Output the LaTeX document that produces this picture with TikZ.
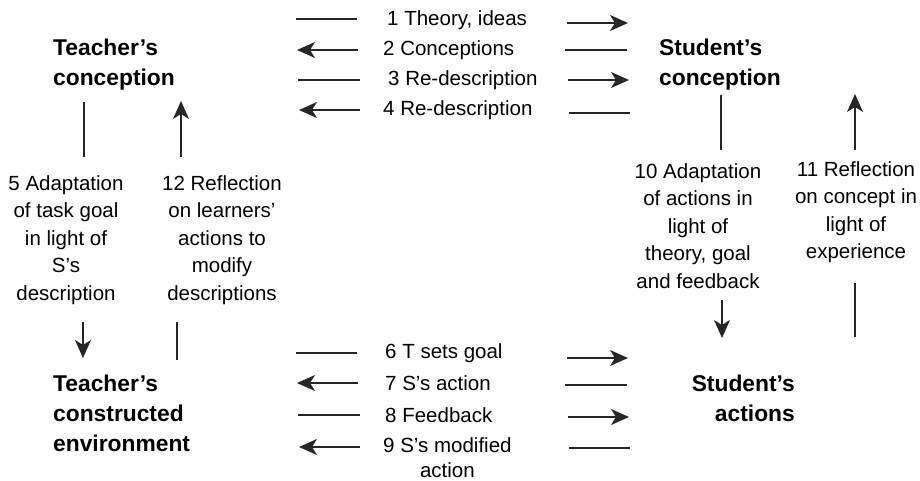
\documentclass[tikz,border=0pt]{standalone}
\usepackage{fontspec}
\setmainfont{Liberation Sans}
\usetikzlibrary{arrows.meta,positioning}

\begin{document}
\begin{tikzpicture}[
  x=1pt, y=-1pt,
  actor/.style={inner sep=0pt, align=left, font=\bfseries\fontsize{22.8}{30}\selectfont},
  lbl/.style={inner sep=0pt, align=center, font=\fontsize{20.5}{27.5}\selectfont},
  seg/.style={line width=1.6pt, draw=black!85},
  arrow/.style={seg, -{Stealth[length=18pt,width=16pt,inset=5pt]}}
]
\useasboundingbox (0,0) rectangle (920,481);

% Actors
\node[actor, anchor=west] (tconc) at (53,65) {Teacher’s\\conception};
\node[actor, anchor=west] (sconc) at (659,65) {Student’s\\conception};
\node[actor, anchor=west] (tenv) at (53,413) {Teacher’s\\constructed\\environment};
\node[actor, anchor=east, align=right] (sact) at (795,398) {Student’s\\actions};

% Exchanges between the conceptions
\node[lbl, anchor=west] (l1) at (387,20) {1 Theory, ideas};
\node[lbl, anchor=west] (l2) at (383,50) {2 Conceptions};
\node[lbl, anchor=west] (l3) at (388,80) {3 Re-description};
\node[lbl, anchor=west] (l4) at (383,110) {4 Re-description};

% Exchanges between the environment and the actions
\node[lbl, anchor=west] (l6) at (385,353) {6 T sets goal};
\node[lbl, anchor=west] (l7) at (385,383) {7 S’s action};
\node[lbl, anchor=west] (l8) at (385,415) {8 Feedback};
\node[lbl, anchor=north west] (l9) at (383,437) {9 S’s modified\\[-2pt]action};

% Vertical loops
\node[lbl] (l5) at (66,240) {5 Adaptation\\of task goal\\in light of\\S’s\\description};
\node[lbl] (l12) at (222,240) {12 Reflection\\on learners’\\actions to\\modify\\descriptions};
\node[lbl] (l10) at (698,226) {10 Adaptation\\of actions in\\light of\\theory, goal\\and feedback};
\node[lbl] (l11) at (856,212) {11 Reflection\\on concept in\\light of\\experience};

% Segment end points, top rows
\coordinate (a1) at (296,19);  \coordinate (b1) at (357,19);
\coordinate (c1) at (567,23);  \coordinate (d1) at (628,23);
\coordinate (a2) at (297,50);  \coordinate (b2) at (358,50);
\coordinate (c2) at (565,50);  \coordinate (d2) at (627,50);
\coordinate (a3) at (298,80);  \coordinate (b3) at (360,80);
\coordinate (c3) at (568,80);  \coordinate (d3) at (629,80);
\coordinate (a4) at (299,110); \coordinate (b4) at (360,110);
\coordinate (c4) at (569,113); \coordinate (d4) at (630,113);

% Segment end points, bottom rows
\coordinate (a6) at (296,353); \coordinate (b6) at (357,353);
\coordinate (c6) at (567,358); \coordinate (d6) at (628,358);
\coordinate (a7) at (297,383); \coordinate (b7) at (358,383);
\coordinate (c7) at (565,385); \coordinate (d7) at (627,385);
\coordinate (a8) at (298,415); \coordinate (b8) at (360,415);
\coordinate (c8) at (568,417); \coordinate (d8) at (629,417);
\coordinate (a9) at (299,447); \coordinate (b9) at (360,447);
\coordinate (c9) at (569,448); \coordinate (d9) at (630,448);

% Horizontal connectors
\draw[seg] (a1) -- (b1);   \draw[arrow] (c1) -- (d1);
\draw[arrow] (b2) -- (a2); \draw[seg] (c2) -- (d2);
\draw[seg] (a3) -- (b3);   \draw[arrow] (c3) -- (d3);
\draw[arrow] (b4) -- (a4); \draw[seg] (c4) -- (d4);
\draw[seg] (a6) -- (b6);   \draw[arrow] (c6) -- (d6);
\draw[arrow] (b7) -- (a7); \draw[seg] (c7) -- (d7);
\draw[seg] (a8) -- (b8);   \draw[arrow] (c8) -- (d8);
\draw[arrow] (b9) -- (a9); \draw[seg] (c9) -- (d9);

% Vertical end points
\coordinate (v5a) at (84,102);   \coordinate (v5b) at (84,157);
\coordinate (v5c) at (83,322);   \coordinate (v5d) at (83,358);
\coordinate (v12a) at (181,157); \coordinate (v12b) at (181,101);
\coordinate (v12c) at (177,322); \coordinate (v12d) at (177,360);
\coordinate (v10a) at (721,95);  \coordinate (v10b) at (721,150);
\coordinate (v10c) at (722,300); \coordinate (v10d) at (722,338);
\coordinate (v11a) at (855,150); \coordinate (v11b) at (855,94);
\coordinate (v11c) at (855,283); \coordinate (v11d) at (855,337);

% Vertical connectors
\draw[seg] (v5a) -- (v5b);     \draw[arrow] (v5c) -- (v5d);
\draw[arrow] (v12a) -- (v12b); \draw[seg] (v12c) -- (v12d);
\draw[seg] (v10a) -- (v10b);   \draw[arrow] (v10c) -- (v10d);
\draw[arrow] (v11a) -- (v11b); \draw[seg] (v11c) -- (v11d);

\end{tikzpicture}
\end{document}
